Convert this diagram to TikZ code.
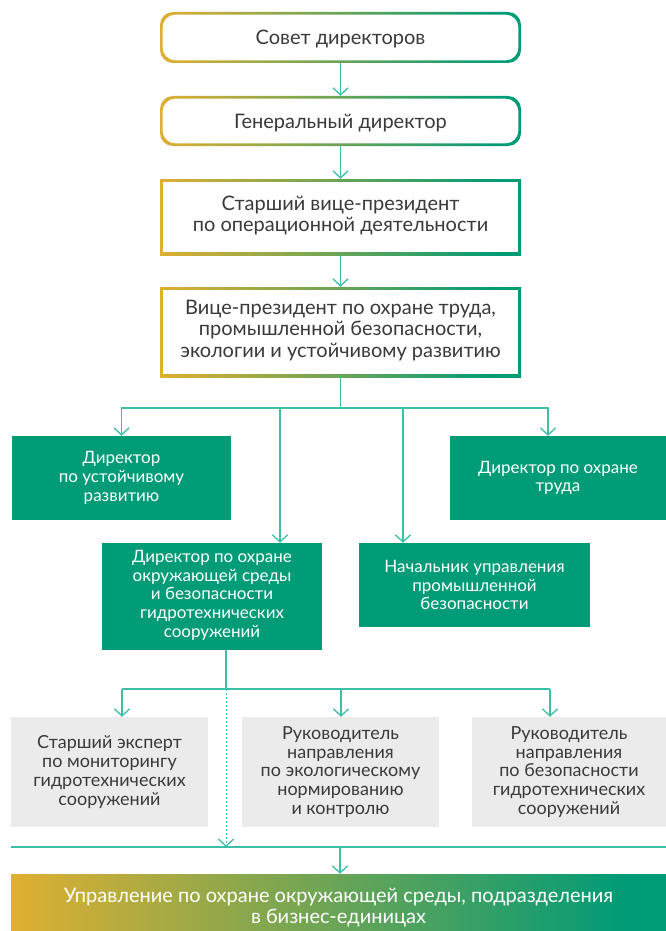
\documentclass[tikz,border=0pt]{standalone}
\usepackage{fontspec}
\setmainfont{Lato}
\usetikzlibrary{arrows.meta}
\definecolor{ora}{HTML}{F7B12A}
\definecolor{grn}{HTML}{009B77}
\definecolor{lnk}{HTML}{3BBFA8}
\definecolor{txt}{HTML}{3A3A3A}
\definecolor{gry}{HTML}{EBEBEB}
\pgfdeclarehorizontalshading{orgr}{100bp}{color(0bp)=(ora);color(20bp)=(ora);color(72bp)=(grn);color(100bp)=(grn)}

\begin{document}
\begin{tikzpicture}[x=1pt,y=-1pt,
  gradbox/.style={minimum width=361,inner sep=0pt,align=center,text=txt,
    font=\fontsize{20}{21.5}\selectfont,
    path picture={\shade[shading=orgr] (path picture bounding box.south west) rectangle (path picture bounding box.north east);
      \fill[white,rounded corners=#1] ([shift={(2.6pt,2.6pt)}]path picture bounding box.south west) rectangle ([shift={(-2.6pt,-2.6pt)}]path picture bounding box.north east);}},
  gradbox/.default=0pt,
  grnbox/.style={fill=grn,text=white,align=center,inner sep=0pt,font=\fontsize{17}{18.7}\selectfont},
  grybox/.style={fill=gry,text=txt,align=center,inner sep=0pt,minimum width=197,minimum height=110,font=\fontsize{18}{18.8}\selectfont},
  conn/.style={draw=lnk,line width=1.3pt},
  arr/.style={conn,-{Straight Barb[length=7pt,width=15pt,line width=1.3pt]}}]
\useasboundingbox (0,0) rectangle (666,931);

% top chain
\node[gradbox=13pt,rounded corners=13pt,minimum height=51,text depth=0pt] (sovet) at (340.5,37.5) {Совет директоров};
\node[gradbox=13pt,rounded corners=13pt,minimum height=50,text depth=0pt] (gendir) at (340.5,121) {Генеральный директор};
\node[gradbox,minimum height=76] (svp) at (340.5,217) {Старший вице-президент\\по операционной деятельности\strut};
\node[gradbox,minimum height=90] (vp) at (340.5,332) {Вице-президент по охране труда,\\промышленной безопасности,\\экологии и устойчивому развитию\strut};
\draw[arr] (sovet) -- (gendir);
\draw[arr] (gendir) -- (svp);
\draw[arr] (svp) -- (vp);

% directors
\node[grnbox,minimum width=219,minimum height=84] (ustoi) at (121.5,478) {Директор\\по устойчивому\\развитию};
\node[grnbox,minimum width=216,minimum height=84] (truda) at (558,478) {Директор по охране\\труда};
\node[grnbox,minimum width=220,minimum height=107] (okrsr) at (212,596.5) {Директор по охране\\окружающей среды\\и безопасности\\гидротехнических\\сооружений\strut};
\node[grnbox,minimum width=231,minimum height=84] (prombez) at (474.5,585) {Начальник управления\\промышленной\\безопасности};

\coordinate (bus1) at (340.5,408);
\coordinate (tapL) at (280,408);
\coordinate (tapR) at (403,408);
\coordinate (tapT) at (548,408);
\draw[conn] (vp) -- (bus1);
\draw[arr] (bus1) -| (ustoi.north);
\draw[arr] (bus1) -| (tapT |- truda.north);
\draw[arr] (tapL) -- (tapL |- okrsr.north);
\draw[arr] (tapR) -- (tapR |- prombez.north);

% experts
\node[grybox] (eksp) at (109.5,772) {Старший эксперт\\по мониторингу\\гидротехнических\\сооружений};
\node[grybox] (ekol) at (340.5,772) {Руководитель\\направления\\по экологическому\\нормированию\\и контролю};
\node[grybox,minimum width=194] (gts) at (569,772) {Руководитель\\направления\\по безопасности\\гидротехнических\\сооружений};

\coordinate (drop) at (226,650);
\coordinate (bus2) at (226,689);
\coordinate (bL) at (122,689);
\coordinate (bM) at (341,689);
\coordinate (bR) at (550,689);
\draw[conn] (drop) -- (bus2);
\draw[conn] (bL) -- (bR);
\draw[arr] (bL) -- (bL |- eksp.north);
\draw[arr] (bM) -- (bM |- ekol.north);
\draw[arr] (bR) -- (bR |- gts.north);

% bottom
\node[shading=orgr,text=white,align=center,inner sep=0pt,minimum width=655,minimum height=68,
  font=\fontsize{20}{21}\selectfont] (upr) at (338.5,908) {Управление по охране окружающей среды, подразделения\\в бизнес-единицах};
\coordinate (busL) at (11,847);
\coordinate (busR) at (666,847);
\coordinate (busM) at (340,847);
\coordinate (dotE) at (226,847);
\draw[conn] (busL) -- (busR);
\draw[arr,line width=1pt,dash pattern=on 1.5pt off 2.5pt] (bus2) -- (dotE);
\draw[arr] (busM) -- (busM |- upr.north);
\end{tikzpicture}
\end{document}
